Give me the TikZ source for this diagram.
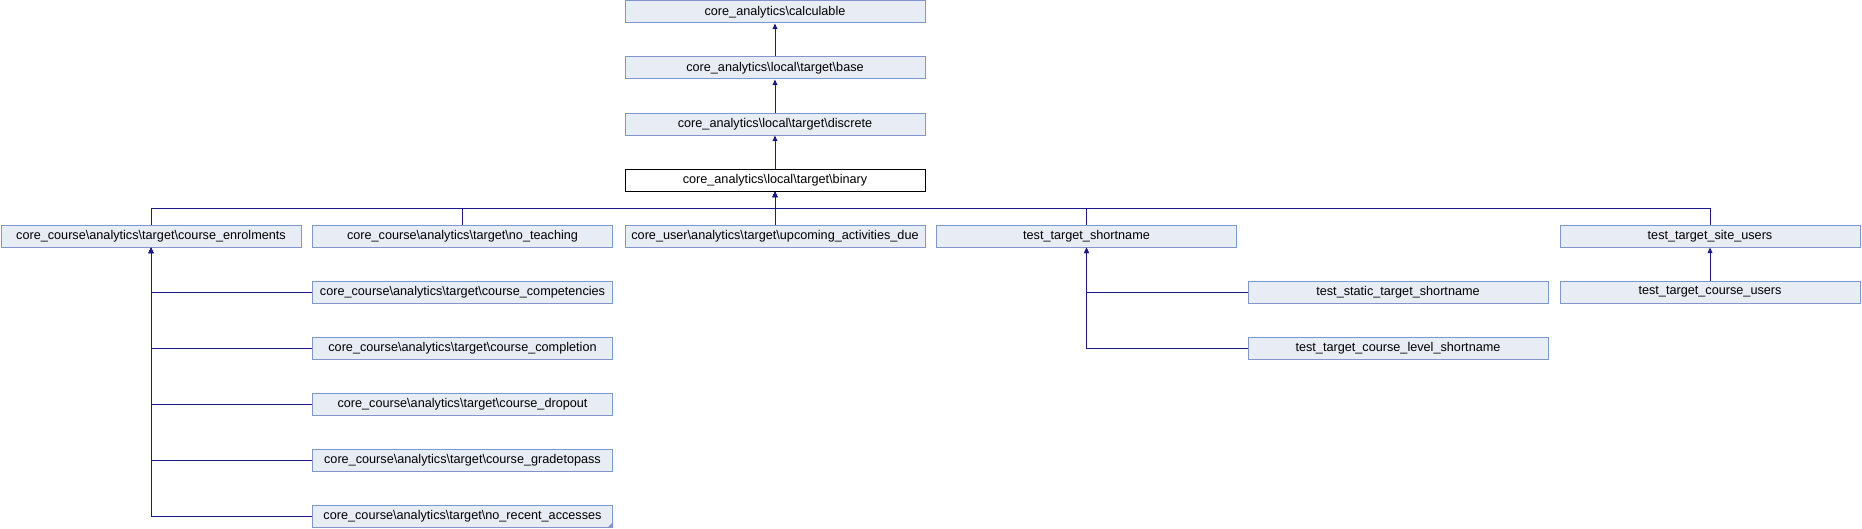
\documentclass[tikz,border=0pt]{standalone}
\usepackage{fontspec}
\setmainfont{Liberation Sans}
\usetikzlibrary{positioning, arrows.meta}

\definecolor{boxfill}{HTML}{E8ECF5}
\definecolor{boxline}{HTML}{8097CB}
\definecolor{edgeblue}{HTML}{1A1A8C}
\newcommand{\bsl}{\textbackslash}

\tikzset{
  cls/.style={draw=boxline, fill=boxfill, line width=0.75pt, minimum width=225pt,
    minimum height=16.5pt, inner sep=0pt, font=\fontsize{9.5pt}{11pt}\selectfont},
  curcls/.style={cls, draw=black, fill=white},
  inh/.style={edgeblue, line width=0.75pt, -{Triangle[width=3.6pt,length=4.2pt]}},
}

\begin{document}
\begin{tikzpicture}[x=0.75pt, y=-0.75pt]
\useasboundingbox (0,0) rectangle (1862,528);
% base classes
\node[cls] (calc) at (775,12) {core\_analytics\bsl{}calculable};
\node[cls] (base) at (775,68) {core\_analytics\bsl{}local\bsl{}target\bsl{}base};
\node[cls] (discrete) at (775,124) {core\_analytics\bsl{}local\bsl{}target\bsl{}discrete};
\node[curcls] (binary) at (775,180) {core\_analytics\bsl{}local\bsl{}target\bsl{}binary};
% direct subclasses
\node[cls] (enrol) at (151,236) {core\_course\bsl{}analytics\bsl{}target\bsl{}course\_enrolments};
\node[cls] (noteach) at (462.5,236) {core\_course\bsl{}analytics\bsl{}target\bsl{}no\_teaching};
\node[cls] (upcoming) at (775,236) {core\_user\bsl{}analytics\bsl{}target\bsl{}upcoming\_activities\_due};
\node[cls] (shortname) at (1086.5,236) {test\_target\_shortname};
\node[cls] (siteusers) at (1710,236) {test\_target\_site\_users};
% deeper subclasses
\node[cls] (competencies) at (462.5,292) {core\_course\bsl{}analytics\bsl{}target\bsl{}course\_competencies};
\node[cls] (completion) at (462.5,348) {core\_course\bsl{}analytics\bsl{}target\bsl{}course\_completion};
\node[cls] (dropout) at (462.5,404) {core\_course\bsl{}analytics\bsl{}target\bsl{}course\_dropout};
\node[cls] (gradetopass) at (462.5,460) {core\_course\bsl{}analytics\bsl{}target\bsl{}course\_gradetopass};
\node[cls] (norecent) at (462.5,516) {core\_course\bsl{}analytics\bsl{}target\bsl{}no\_recent\_accesses};
\node[cls] (static) at (1398,292) {test\_static\_target\_shortname};
\node[cls] (levelshort) at (1398,348) {test\_target\_course\_level\_shortname};
\node[cls] (courseusers) at (1710,292) {test\_target\_course\_users};
\fill[boxline] ([xshift=-4pt]norecent.south east) -- (norecent.south east) -- ([yshift=4pt]norecent.south east) -- cycle;

\coordinate (bus) at (775,208);
% inheritance edges
\draw[inh] (base.north) -- (calc.south);
\draw[inh] (discrete.north) -- (base.south);
\draw[inh] (binary.north) -- (discrete.south);
\foreach \c in {enrol, noteach, shortname, siteusers}
  \draw[inh] (\c.north) |- (bus) -- (binary.south);
\draw[inh] (upcoming.north) -- (binary.south);
\foreach \c in {competencies, completion, dropout, gradetopass, norecent}
  \draw[inh] (\c.west) -| (enrol.south);
\foreach \c in {static, levelshort}
  \draw[inh] (\c.west) -| (shortname.south);
\draw[inh] (courseusers.north) -- (siteusers.south);
\end{tikzpicture}
\end{document}
